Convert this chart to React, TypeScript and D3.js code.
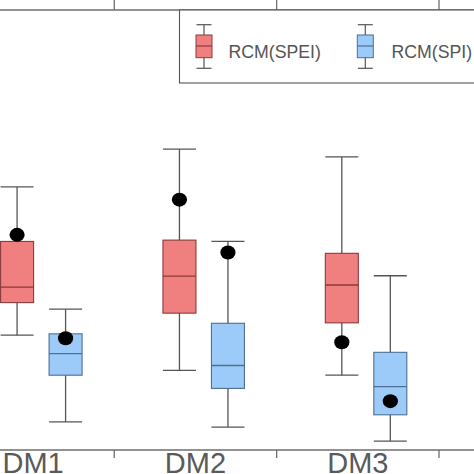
import React from "react";
import * as d3 from "d3";

const categories = ["DM1", "DM2", "DM3"];
const seriesNames = ["RCM(SPEI)", "RCM(SPI)"];
// five-number summaries [min, q1, median, q3, max] per category
const speiStats = [
  [0.261, 0.335, 0.370, 0.474, 0.598],
  [0.181, 0.311, 0.395, 0.477, 0.684],
  [0.170, 0.289, 0.375, 0.447, 0.666],
];
const spiStats = [
  [0.064, 0.170, 0.219, 0.264, 0.320],
  [0.052, 0.140, 0.192, 0.288, 0.474],
  [0.020, 0.080, 0.144, 0.222, 0.396],
];
// observed values (black dots)
const speiObs = [0.489, 0.569, 0.245];
const spiObs = [0.254, 0.449, 0.111];

const W = 474;
const H = 474;

const styles = [
  { fill: "#f08080", stroke: "#8a3a3a", offset: -16 },
  { fill: "#9dcbf9", stroke: "#4d6f91", offset: 32.5 },
];

export default function App() {
  const x = d3.scaleBand<string>().domain(categories).range([-48.1, 439]).padding(0);
  const y = d3.scaleLinear().domain([0, 1]).range([450, 10]);
  const bw = 33;
  const axisColor = "#6e6e6e";
  const whisk = "#555";
  const allStats = [speiStats, spiStats];
  const allObs = [speiObs, spiObs];

  return (
    <svg width={W} height={H} style={{ position: "absolute", left: 0, top: 0, background: "#fff" }}
      fontFamily="'Liberation Sans', Arial, sans-serif">
      <rect x={0} y={0} width={W} height={H} fill="#fff" />
      {/* top axis */}
      <line x1={0} x2={W} y1={y(1)} y2={y(1)} stroke={axisColor} strokeWidth={1.4} />
      {categories.map((c) => (
        <line key={"tt" + c} x1={x(c)! + x.bandwidth()} x2={x(c)! + x.bandwidth()} y1={0} y2={y(1)}
          stroke={axisColor} strokeWidth={1.3} />
      ))}
      {/* bottom axis */}
      <line x1={0} x2={W} y1={y(0)} y2={y(0)} stroke={axisColor} strokeWidth={1.4} />
      {categories.map((c) => (
        <line key={"bt" + c} x1={x(c)! + x.bandwidth()} x2={x(c)! + x.bandwidth()} y1={y(0)} y2={y(0) + 8}
          stroke={axisColor} strokeWidth={1.3} />
      ))}
      {categories.map((c) => (
        <text key={"lb" + c} x={x(c)! + x.bandwidth() / 2} y={473} textAnchor="middle"
          fontSize={29} fill="#5a5a5a">{c}</text>
      ))}

      {/* legend */}
      <rect x={179.5} y={y(1)} width={400} height={73} fill="#fff" stroke="#555" strokeWidth={1.1} />
      {seriesNames.map((s, i) => {
        const lx = i === 0 ? 204 : 365.3;
        const tx = i === 0 ? 228.5 : 391.5;
        return (
          <g key={"lg" + s}>
            <line x1={lx} x2={lx} y1={24.7} y2={68.3} stroke={whisk} strokeWidth={1.2} />
            <line x1={lx - 7.5} x2={lx + 7.5} y1={24.7} y2={24.7} stroke={whisk} strokeWidth={1.2} />
            <line x1={lx - 7.5} x2={lx + 7.5} y1={68.3} y2={68.3} stroke={whisk} strokeWidth={1.2} />
            <rect x={lx - 8} y={35} width={16} height={22.7} fill={styles[i].fill} stroke={styles[i].stroke} strokeWidth={1} />
            <line x1={lx - 8} x2={lx + 8} y1={46} y2={46} stroke={styles[i].stroke} strokeWidth={1.2} />
            <text x={tx} y={57.7} fontSize={17.7} fill="#555">{s}</text>
          </g>
        );
      })}

      {/* boxes */}
      {allStats.map((stats, si) =>
        categories.map((c, ci) => {
          const [mn, q1, md, q3, mx] = stats[ci];
          const cx = x(c)! + x.bandwidth() / 2 + styles[si].offset;
          return (
            <g key={"bx" + si + c}>
              <line x1={cx} x2={cx} y1={y(mx)} y2={y(mn)} stroke={whisk} strokeWidth={1.3} />
              <line x1={cx - bw / 2} x2={cx + bw / 2} y1={y(mx)} y2={y(mx)} stroke={whisk} strokeWidth={1.3} />
              <line x1={cx - bw / 2} x2={cx + bw / 2} y1={y(mn)} y2={y(mn)} stroke={whisk} strokeWidth={1.3} />
              <rect x={cx - bw / 2} y={y(q3)} width={bw} height={y(q1) - y(q3)}
                fill={styles[si].fill} stroke={styles[si].stroke} strokeWidth={1.1} />
              <line x1={cx - bw / 2} x2={cx + bw / 2} y1={y(md)} y2={y(md)} stroke={styles[si].stroke} strokeWidth={1.3} />
              <ellipse cx={cx} cy={y(allObs[si][ci])} rx={7.6} ry={7} fill="#000" />
            </g>
          );
        })
      )}
    </svg>
  );
}
